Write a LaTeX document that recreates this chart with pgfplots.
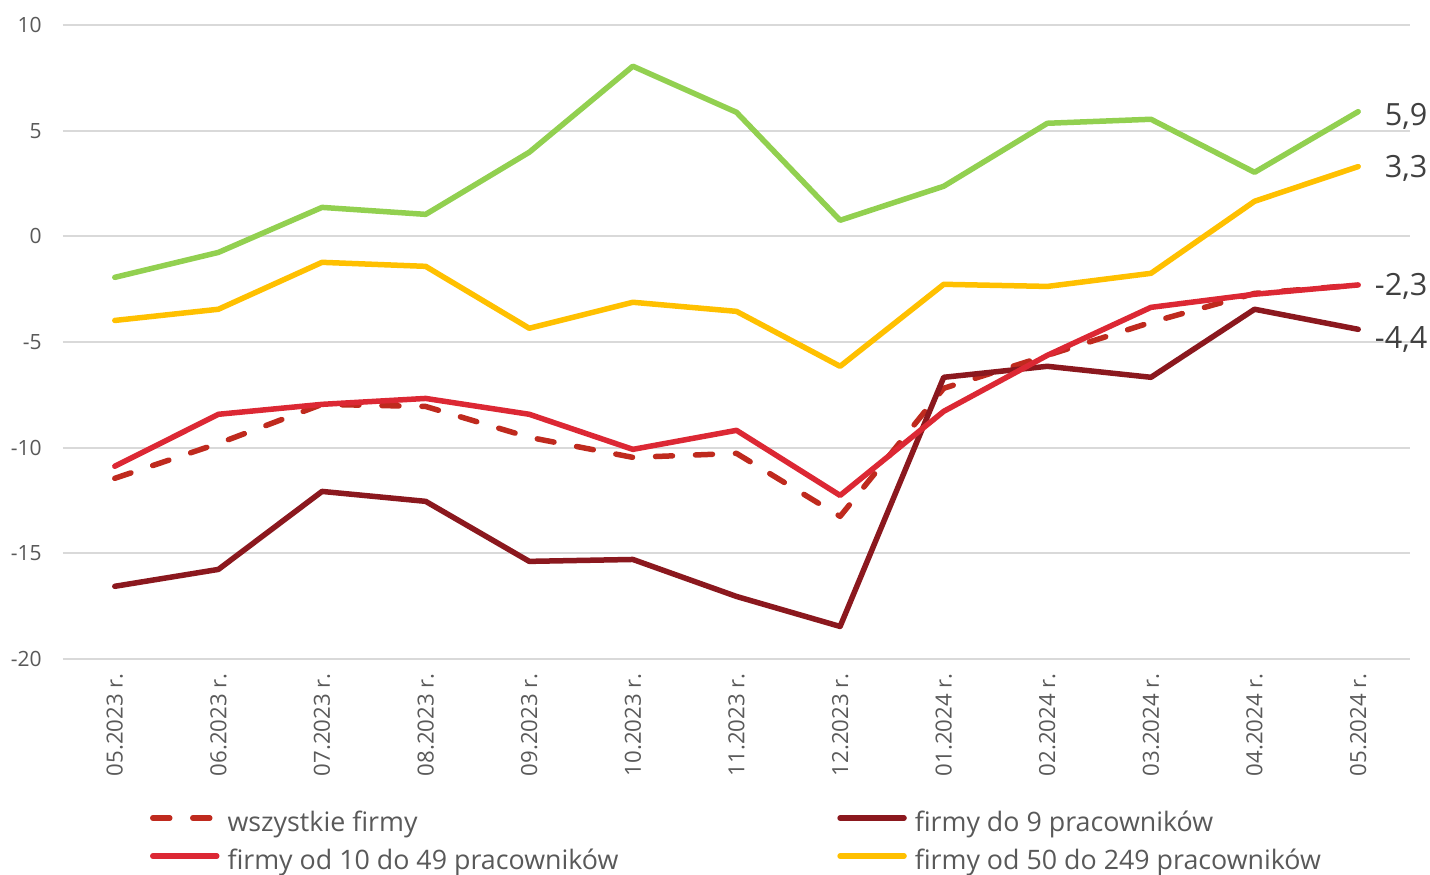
\documentclass[border=0pt]{standalone}
\usepackage{fontspec}
\setmainfont{Open Sans}
\usepackage{pgfplots}
\pgfplotsset{compat=1.18}
\definecolor{cgreen}{HTML}{92D050}
\definecolor{cyellow}{HTML}{FFC000}
\definecolor{cred}{HTML}{DC2834}
\definecolor{cdark}{HTML}{8B181E}
\definecolor{cdash}{HTML}{BF2A1E}
\definecolor{gridgray}{HTML}{D9D9D9}
\definecolor{textgray}{HTML}{595959}
\definecolor{labgray}{HTML}{404040}
\begin{document}
\begin{tikzpicture}
\path[use as bounding box] (-31.5pt,-107.5pt) rectangle (683.5pt,329.5pt);
\begin{axis}[
  at={(0pt,0pt)}, anchor=south west,
  scale only axis, width=673.5pt, height=317pt,
  xmin=-0.5, xmax=12.5, ymin=-20, ymax=10,
  ytick={-20,-15,...,10},
  xtick={0,...,12},
  xticklabels={05.2023 r.,06.2023 r.,07.2023 r.,08.2023 r.,09.2023 r.,10.2023 r.,11.2023 r.,12.2023 r.,01.2024 r.,02.2024 r.,03.2024 r.,04.2024 r.,05.2024 r.},
  axis line style={draw=none},
  tick style={draw=none},
  ymajorgrids, grid style={line width=1pt, gridgray},
  /pgf/number format/assume math mode=true,
  yticklabel style={font=\fontsize{10.5}{12}\selectfont, text=textgray, inner sep=0pt, anchor=east},
  yticklabel shift=10.5pt,
  xticklabel style={font=\fontsize{11.1}{13}\selectfont, text=textgray, inner sep=0pt, rotate=90, anchor=east},
  xticklabel shift=7pt,
  clip=false,
  legend columns=2,
  legend cell align=left,
  legend style={at={(0.0646,-0.2398)}, anchor=north west, draw=none, fill=none, inner sep=0pt, outer sep=0pt,
    font=\fontsize{13.4}{15}\selectfont, text=textgray,
    nodes={inner sep=0pt, text height=10pt, text depth=3pt},
    row sep=6pt,
    /tikz/every odd column/.append style={column sep=4pt},
    /tikz/every even column/.append style={column sep=109.5pt}},
  legend image code/.code={\draw[#1] (0pt,0.3em) -- (32pt,0.3em);},
  every axis plot/.append style={line width=2.75pt, line join=round, line cap=round},
]
\addplot[cdash, dash pattern=on 8.5pt off 11.5pt] coordinates {
(0,-11.45) (1,-9.80) (2,-7.95) (3,-8.05) (4,-9.51) (5,-10.46) (6,-10.27) (7,-13.25) (8,-7.19) (9,-5.63) (10,-4.07) (11,-2.70) (12,-2.3)};
\addlegendentry{wszystkie firmy}
\addplot[cdark] coordinates {
(0,-16.56) (1,-15.76) (2,-12.07) (3,-12.54) (4,-15.38) (5,-15.29) (6,-17.04) (7,-18.46) (8,-6.67) (9,-6.15) (10,-6.67) (11,-3.45) (12,-4.4)}
 node[pos=1, anchor=west, inner sep=0pt, xshift=7pt, yshift=-5pt, font=\fontsize{15.3}{17}\selectfont, text=labgray] {-4,4};
\addlegendentry{firmy do 9 pracowników}
\addplot[cred] coordinates {
(0,-10.88) (1,-8.42) (2,-7.95) (3,-7.67) (4,-8.42) (5,-10.08) (6,-9.18) (7,-12.26) (8,-8.28) (9,-5.63) (10,-3.36) (11,-2.74) (12,-2.3)}
 node[pos=1, anchor=west, inner sep=0pt, xshift=7pt, yshift=-0.5pt, font=\fontsize{15.3}{17}\selectfont, text=labgray] {-2,3};
\addlegendentry{firmy od 10 do 49 pracowników}
\addplot[cyellow] coordinates {
(0,-3.98) (1,-3.45) (2,-1.23) (3,-1.42) (4,-4.35) (5,-3.12) (6,-3.55) (7,-6.15) (8,-2.27) (9,-2.37) (10,-1.75) (11,1.66) (12,3.3)}
 node[pos=1, anchor=west, inner sep=0pt, xshift=12pt, yshift=-1pt, font=\fontsize{15.3}{17}\selectfont, text=labgray] {3,3};
\addlegendentry{firmy od 50 do 249 pracowników}
\addplot[cgreen, forget plot] coordinates {
(0,-1.94) (1,-0.76) (2,1.37) (3,1.04) (4,3.98) (5,8.05) (6,5.87) (7,0.76) (8,2.37) (9,5.35) (10,5.54) (11,3.03) (12,5.9)}
 node[pos=1, anchor=west, inner sep=0pt, xshift=12pt, yshift=-2.5pt, font=\fontsize{15.3}{17}\selectfont, text=labgray] {5,9};
\end{axis}
\end{tikzpicture}
\end{document}
